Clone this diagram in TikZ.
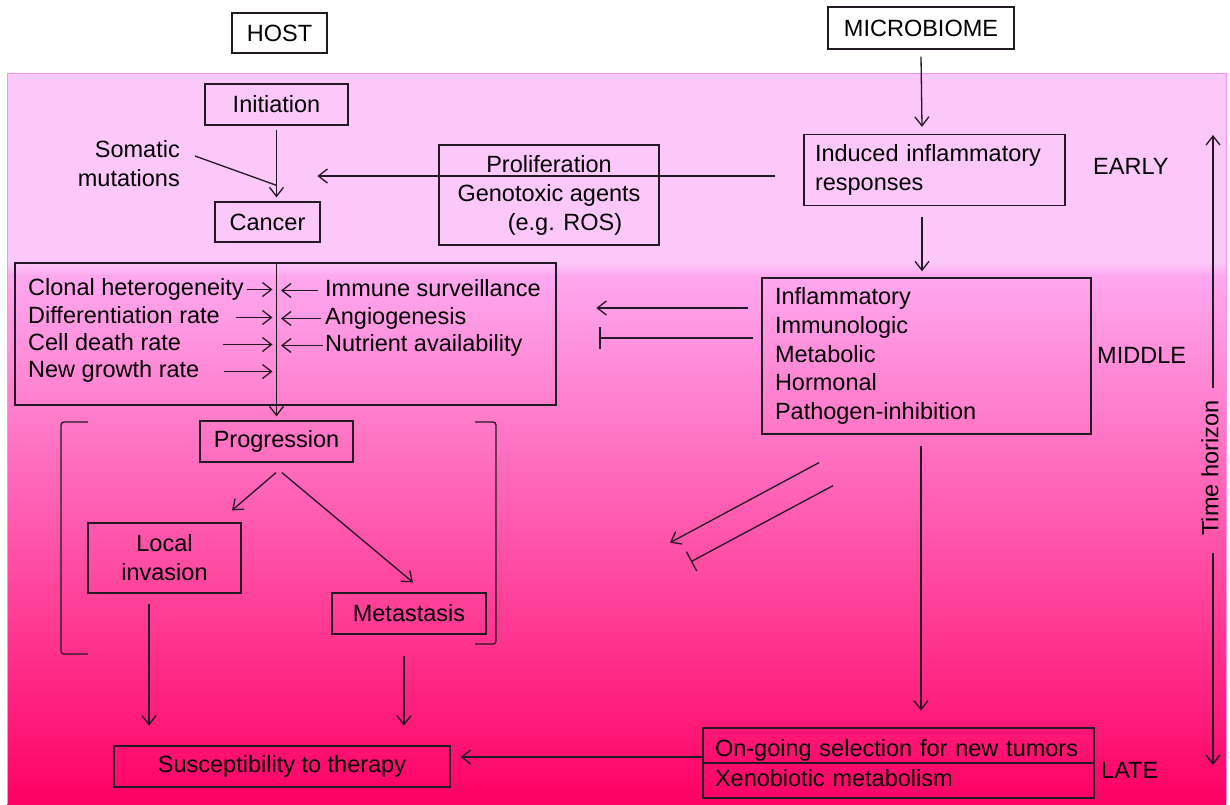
\documentclass[tikz,border=0pt]{standalone}
\usepackage{fontspec}
\setmainfont{Liberation Sans}
\usetikzlibrary{arrows.meta}
\definecolor{ink}{RGB}{35,25,35}
\definecolor{pinklight}{RGB}{252,200,250}
\definecolor{pinkmid}{RGB}{255,168,240}
\definecolor{pinkdeep}{RGB}{255,0,100}
\definecolor{pinkedge}{RGB}{240,150,240}
\begin{document}
\begin{tikzpicture}[x=1pt,y=-1pt,
  every node/.style={font=\fontsize{23.5}{29}\selectfont, text=black},
  box/.style={draw=ink, line width=1.3pt, inner sep=0pt},
  arr/.style={draw=ink, line width=1.3pt, -{Straight Barb[length=9pt,width=14pt]}},
  inh/.style={draw=ink, line width=1.3pt, -{Bar[width=22pt]}},
  plain/.style={draw=ink, line width=1.3pt},
  lbl/.style={inner sep=0pt, anchor=west, text height=17pt, text depth=5pt}]
\useasboundingbox (0,0) rectangle (1230,804);
% background
\fill[white] (0,0) rectangle (1230,804);
\fill[pinklight] (7,73) rectangle (1226,263);
\shade[top color=pinklight, bottom color=pinkmid] (7,262) rectangle (1226,276);
\shade[top color=pinkmid, bottom color=pinkdeep] (7,275) rectangle (1226,804);
\draw[pinkedge, line width=1pt] (7,804) -- (7,73) -- (1226,73) -- (1226,804);

% header boxes
\node[box, fill=white, minimum width=95pt, minimum height=40pt] (host) at (279.5,33) {HOST};
\node[box, fill=white, minimum width=186pt, minimum height=42pt] (micro) at (921,28) {MICROBIOME};

% early
\node[box, minimum width=143pt, minimum height=41pt] (init) at (276.5,104.5) {Initiation};
\node[box, minimum width=105pt, minimum height=40pt] (cancer) at (267.5,222) {Cancer};
\node[align=right, anchor=east, inner sep=0pt] (somatic) at (180,164) {Somatic\\mutations};
\node[box, minimum width=220pt, minimum height=100pt, align=center] (prolif) at (549,195)
  {Proliferation\\Genotoxic agents\\\hspace*{32pt}(e.g. ROS)};
\node[box, minimum width=261pt, minimum height=71pt, text width=239pt, inner xsep=11pt, align=left] (induced) at (934.5,170)
  {Induced inflammatory\\responses};
\node[anchor=west, inner sep=0pt] (early) at (1093,166) {EARLY};

% middle
\node[box, minimum width=541pt, minimum height=142pt] (lbox) at (285.5,334) {};
\node[lbl] (lc1) at (28,289.5) {Clonal heterogeneity};
\node[lbl] (lc2) at (28,317.5) {Differentiation rate};
\node[lbl] (lc3) at (28,344.5) {Cell death rate};
\node[lbl] (lc4) at (28,371.5) {New growth rate};
\node[lbl] (rc1) at (325,290.5) {Immune surveillance};
\node[lbl] (rc2) at (325,318.5) {Angiogenesis};
\node[lbl] (rc3) at (325,345.5) {Nutrient availability};
\node[box, minimum width=329pt, minimum height=156pt, text width=303pt, inner xsep=13pt, align=left,
  font=\fontsize{23.5}{28.7}\selectfont] (middle) at (926.5,356)
  {Inflammatory\\Immunologic\\Metabolic\\Hormonal\\Pathogen-inhibition};
\node[anchor=west, inner sep=0pt] (midlbl) at (1097,355) {MIDDLE};

% progression
\node[box, minimum width=153pt, minimum height=41pt] (prog) at (276.5,441.5) {Progression};
\node[box, minimum width=153pt, minimum height=70pt, align=center] (local) at (164.5,558) {Local\\invasion};
\node[box, minimum width=154pt, minimum height=41pt] (meta) at (409,613.5) {Metastasis};
\node[box, minimum width=336pt, minimum height=41pt] (susc) at (282,766.5) {Susceptibility to therapy};

% late
\node[box, minimum width=391pt, minimum height=70pt, text width=367pt, inner xsep=12pt, align=left,
  font=\fontsize{23.5}{30}\selectfont] (late) at (898.5,763)
  {On-going selection for new tumors\\Xenobiotic metabolism};
\draw[plain] (late.west) -- (late.east);
\node[anchor=west, inner sep=0pt] (latelbl) at (1101,770) {LATE};

% time horizon
\node[rotate=90, inner sep=0pt] (time) at (1210,468) {Time horizon};
\coordinate (tu) at (1213,388);
\coordinate (td) at (1213,553);
\draw[arr] (tu) -- ++(0,-253);
\draw[arr] (td) -- ++(0,212);

% connectors: early
\path (init.south |- cancer.north) coordinate (cj);
\draw[arr, shorten >=4pt] ([yshift=-4pt]init.south) -- (cj);
\draw[plain] ([shift={(15,-8)}]somatic.east) -- ([yshift=16pt]cj);
\draw[arr] ([yshift=-7pt]micro.south) -- ([shift={(-12.5,-7)}]induced.north);
\draw[arr] ([shift={(-28,6)}]induced.west) -- ++(-458,0);
\draw[arr] ([shift={(-12.5,11)}]induced.south) -- ([shift={(-4.5,-6)}]middle.north);

% connectors: middle
\draw[arr, shorten >=4pt] (prog.north |- lbox.north) -- (prog.north);
\draw[arr, shorten >=4pt] ([xshift=3pt]lc1.east) -- (prog.north |- lc1);
\draw[arr, shorten >=4pt] ([xshift=16pt]lc2.east) -- (prog.north |- lc2);
\draw[arr, shorten >=4pt] ([xshift=42pt]lc3.east) -- (prog.north |- lc3);
\draw[arr, shorten >=4pt] ([xshift=24pt]lc4.east) -- (prog.north |- lc4);
\draw[arr, shorten >=4.5pt] ([xshift=-7pt]rc1.west) -- (prog.north |- rc1);
\draw[arr, shorten >=4.5pt] ([xshift=-4pt]rc2.west) -- (prog.north |- rc2);
\draw[arr, shorten >=4.5pt] ([xshift=-2pt]rc3.west) -- (prog.north |- rc3);
\draw[arr] ([shift={(-13,-48)}]middle.west) -- ++(-152,0);
\draw[inh] ([shift={(-8,-18)}]middle.west) -- ++(-154,0);

% brackets
\draw[plain, rounded corners=3pt] (88,422) -- (61,422) -- (61,654) -- (88,654);
\draw[plain, rounded corners=3pt] (475,422) -- (496,422) -- (496,644) -- (475,644);

% connectors: progression
\draw[arr] ([shift={(-0.5,10)}]prog.south) -- ([shift={(67.5,-12)}]local.north);
\draw[arr] ([shift={(5.5,10)}]prog.south) -- ([shift={(4,-10)}]meta.north);
\draw[arr] ([shift={(-15.5,10)}]local.south) -- ++(0,122);
\draw[arr] ([shift={(-5,21)}]meta.south) -- ++(0,70);

% connectors: late
\draw[arr] ([shift={(-5.5,11)}]middle.south) -- ++(0,265);
\draw[arr] ([shift={(-107.5,28)}]middle.south) -- ++(-149,80);
\draw[inh] ([shift={(-93.5,51)}]middle.south) -- ++(-142,76);
\draw[arr, shorten >=10pt] ([yshift=6pt]late.west) -- ([yshift=6pt]late.west -| susc.east);
\end{tikzpicture}
\end{document}
